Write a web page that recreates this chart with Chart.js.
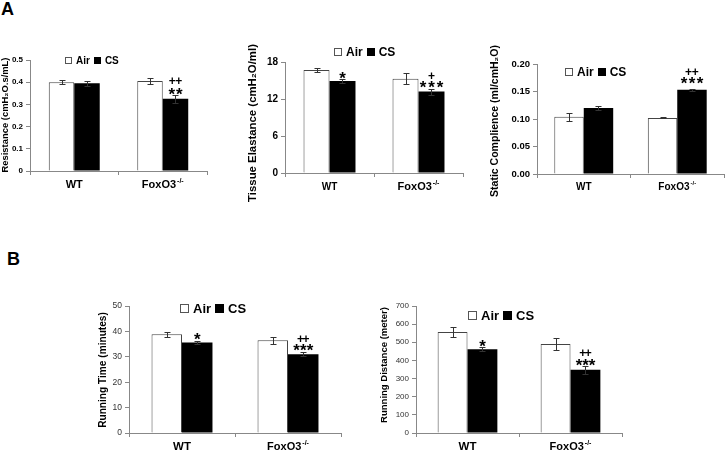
<!DOCTYPE html>
<html><head><meta charset="utf-8">
<script src="https://cdn.jsdelivr.net/npm/chart.js@4.4.1/dist/chart.umd.min.js"></script>
<style>
body{margin:0;background:#fff;width:725px;height:452px;position:relative;overflow:hidden;font-family:'Liberation Sans',Arial,sans-serif}
.lbl{position:absolute;font-weight:bold;font-size:18px;line-height:18px;color:#000}
canvas{position:absolute}
</style></head><body>
<div class="lbl" style="left:1px;top:0px">A</div>
<div class="lbl" style="left:7px;top:250px">B</div>
<canvas id="c1"></canvas><canvas id="c2"></canvas><canvas id="c3"></canvas><canvas id="c4"></canvas><canvas id="c5"></canvas>
<script>
// ---------- DATA ----------
const categories = ['WT', 'FoxO3'];
const categorySuper = ['', '-/-'];
const seriesNames = ['Air', 'CS'];

const resistanceAir = [0.400, 0.405];
const resistanceCS = [0.395, 0.325];
const resistanceAirErr = [0.008, 0.015];
const resistanceCSErr = [0.012, 0.017];
const resistanceMarks = [[], ['++', '**']];
const resistanceTicks = ['0', '0.1', '0.2', '0.3', '0.4', '0.5'];

const elastanceAir = [16.7, 15.3];
const elastanceCS = [14.9, 13.2];
const elastanceAirErr = [0.4, 0.9];
const elastanceCSErr = [0.3, 0.5];
const elastanceMarks = [['*'], ['+', '***']];
const elastanceTicks = ['0', '6', '12', '18'];

const complianceAir = [0.104, 0.102];
const complianceCS = [0.120, 0.153];
const complianceAirErr = [0.007, 0.001];
const complianceCSErr = [0.004, 0.002];
const complianceMarks = [[], ['++', '***']];
const complianceTicks = ['0.00', '0.05', '0.10', '0.15', '0.20'];

const runTimeAir = [38.9, 36.5];
const runTimeCS = [35.6, 31.0];
const runTimeAirErr = [1.0, 1.3];
const runTimeCSErr = [0.6, 0.8];
const runTimeMarks = [['*'], ['++', '***']];
const runTimeTicks = ['0', '10', '20', '30', '40', '50'];

const runDistAir = [557, 491];
const runDistCS = [462, 349];
const runDistAirErr = [27, 33];
const runDistCSErr = [12, 22];
const runDistMarks = [['*'], ['++', '***']];
const runDistTicks = ['0', '100', '200', '300', '400', '500', '600', '700'];

// ---------- LAYOUT ----------
const FONT = "'Liberation Sans', Arial, sans-serif";
Chart.defaults.font.family = FONT;
Chart.defaults.color = '#000';

const panels = [
  {id:'c1', box:[0,30,215,175], area:[30,60,207,171], title:'Resistance (cmH\u2082O.s/mL)', titleLen:115, titlePos:[5,115],
   tickFont:{size:8, weight:'bold'}, tickColor:'#000', min:0, max:0.5, step:0.1, ticks:resistanceTicks,
   air:resistanceAir, cs:resistanceCS, airErr:resistanceAirErr, csErr:resistanceCSErr, marks:resistanceMarks,
   catPct:0.576, legend:[65,60,10], catOff:14, catSizes:[11,11], markGap:5, markLine:9, markAdv:7.5},
  {id:'c2', box:[240,30,240,175], area:[285,62,463,173], title:'Tissue Elastance (cmH\u2082O/ml)', titleLen:158, titlePos:[253,123],
   tickFont:{size:10, weight:'bold'}, tickColor:'#000', min:0, max:18, step:6, ticks:elastanceTicks,
   air:elastanceAir, cs:elastanceCS, airErr:elastanceAirErr, csErr:elastanceCSErr, marks:elastanceMarks,
   catPct:0.584, legend:[334,52,12], catOff:14, catSizes:[10,11], markGap:5, markLine:8, markAdv:8.5},
  {id:'c3', box:[480,30,245,175], area:[537,64,724,174], title:'Static Complience (ml/cmH\u2082O)', titleLen:152, titlePos:[495,121],
   tickFont:{size:9.5, weight:'bold'}, tickColor:'#000', min:0, max:0.2, step:0.05, ticks:complianceTicks,
   air:complianceAir, cs:complianceCS, airErr:complianceAirErr, csErr:complianceCSErr, marks:complianceMarks,
   catPct:0.63, legend:[565,72,12], catOff:13, catSizes:[10,10], markGap:10, markLine:7, markAdv:8},
  {id:'c4', box:[85,285,260,170], area:[129,306,341,433], title:'Running Time (minutes)', titleLen:116, titlePos:[103,370],
   tickFont:{size:8.5}, tickColor:'#333', min:0, max:50, step:10, ticks:runTimeTicks,
   air:runTimeAir, cs:runTimeCS, airErr:runTimeAirErr, csErr:runTimeCSErr, marks:runTimeMarks,
   catPct:0.575, legend:[180,308,13], catOff:14, catSizes:[11.5,11], markGap:6, markLine:7, markAdv:6.7},
  {id:'c5', box:[365,285,265,170], area:[416,306,622,433], title:'Running Distance (meter)', titleLen:116, titlePos:[384,365],
   tickFont:{size:8}, tickColor:'#333', min:0, max:700, step:100, ticks:runDistTicks,
   air:runDistAir, cs:runDistCS, airErr:runDistAirErr, csErr:runDistCSErr, marks:runDistMarks,
   catPct:0.58, legend:[468,315,13], catOff:14, catSizes:[11.5,11], markGap:5, markLine:8, markAdv:6.5}
];

const deco = {
  id: 'deco',
  afterDraw(chart, args, o) {
    const ctx = chart.ctx, ys = chart.scales.y, xs = chart.scales.x, ca = chart.chartArea;
    ctx.save();
    // error bars
    o.errors.forEach((errs, di) => {
      const meta = chart.getDatasetMeta(di);
      meta.data.forEach((el, j) => {
        const v = chart.data.datasets[di].data[j], e = errs[j];
        const x = Math.round(el.x) + 0.5;
        const t = Math.round(ys.getPixelForValue(v + e)) + 0.5;
        const b = Math.round(ys.getPixelForValue(v - e)) + 0.5;
        ctx.strokeStyle = '#333'; ctx.lineWidth = 1;
        ctx.beginPath(); ctx.moveTo(x, t); ctx.lineTo(x, b);
        ctx.moveTo(x - 3, t); ctx.lineTo(x + 3, t);
        ctx.moveTo(x - 3, b); ctx.lineTo(x + 3, b); ctx.stroke();
      });
    });
    // significance marks above CS bars
    const metaCS = chart.getDatasetMeta(1);
    ctx.fillStyle = '#000'; ctx.textAlign = 'center'; ctx.textBaseline = 'alphabetic';
    metaCS.data.forEach((el, j) => {
      const lines = o.marks[j]; if (!lines.length) return;
      const v = chart.data.datasets[1].data[j], e = o.errors[1][j];
      const errTop = ys.getPixelForValue(v + e);
      const n = lines.length;
      lines.forEach((ln, k) => {
        const center = errTop - o.markGap - (n - 1 - k) * o.markLine;
        const isStar = ln[0] === '*';
        const size = isStar ? 17 : 12;
        ctx.font = `bold ${size}px ${FONT}`;
        const base = center + (isStar ? 0.585 : 0.35) * size;
        const adv = isStar ? o.markAdv : o.markAdv * 0.85;
        for (let c = 0; c < ln.length; c++) {
          ctx.fillText(ln[c], el.x + (c - (ln.length - 1) / 2) * adv, base);
        }
      });
    });
    // legend
    const [lx, ly, ls] = o.legend;
    const sq = Math.round(ls * 0.7);
    ctx.font = `bold ${ls}px ${FONT}`; ctx.textAlign = 'left'; ctx.textBaseline = 'middle';
    let x = lx;
    ctx.strokeStyle = '#555'; ctx.lineWidth = 1;
    ctx.strokeRect(Math.round(x) + 0.5, Math.round(ly - sq / 2) + 0.5, sq - 1, sq - 1);
    x += sq + 4;
    ctx.fillText(o.names[0], x, ly + 1);
    x += ctx.measureText(o.names[0]).width + 4;
    ctx.fillRect(Math.round(x), Math.round(ly - sq / 2), sq, sq);
    x += sq + 4;
    ctx.fillText(o.names[1], x, ly + 1);
    // category labels
    ctx.textBaseline = 'middle';
    o.cats.forEach((c, j) => {
      const cx = xs.getPixelForValue(j);
      const y = ca.bottom + o.catOff;
      const fs = o.catSizes[j];
      ctx.font = `bold ${fs}px ${FONT}`;
      const w1 = ctx.measureText(c).width;
      let w2 = 0;
      const sup = o.sups[j];
      if (sup) { ctx.font = `bold ${Math.round(fs * 0.6)}px ${FONT}`; w2 = ctx.measureText(sup).width + 1; }
      const sx = cx - (w1 + w2) / 2;
      ctx.textAlign = 'left';
      ctx.font = `bold ${fs}px ${FONT}`;
      ctx.fillText(c, sx, y);
      if (sup) { ctx.font = `bold ${Math.round(fs * 0.6)}px ${FONT}`; ctx.fillText(sup, sx + w1 + 1, y - fs * 0.35); }
    });
    // y-axis title (rotated), sized to the reference length
    ctx.font = `bold 10px ${FONT}`;
    const w10 = ctx.measureText(o.title.text).width;
    const tsize = 10 * o.title.len / w10;
    ctx.save();
    ctx.translate(o.title.x, o.title.y);
    ctx.rotate(-Math.PI / 2);
    ctx.font = `bold ${tsize.toFixed(2)}px ${FONT}`;
    ctx.textAlign = 'center'; ctx.textBaseline = 'middle';
    ctx.fillText(o.title.text, 0, 0);
    ctx.restore();
    ctx.restore();
  }
};

panels.forEach(p => {
  const [bx, by, bw, bh] = p.box;
  const [al, at, ar, ab] = p.area;
  const cv = document.getElementById(p.id);
  cv.width = bw; cv.height = bh;
  cv.style.left = bx + 'px'; cv.style.top = by + 'px';
  cv.style.width = bw + 'px'; cv.style.height = bh + 'px';
  new Chart(cv, {
    type: 'bar',
    data: {
      labels: categories,
      datasets: [
        {label: seriesNames[0], data: p.air, backgroundColor: '#fff', borderColor: '#444', borderWidth: 1, borderSkipped: 'bottom'},
        {label: seriesNames[1], data: p.cs, backgroundColor: '#000', borderColor: '#000', borderWidth: 0}
      ]
    },
    options: {
      responsive: false, animation: false, events: [],
      layout: {padding: {left: 0, top: at - by, right: bx + bw - ar, bottom: 0}},
      datasets: {bar: {barPercentage: 1, categoryPercentage: p.catPct}},
      plugins: {
        legend: {display: false}, tooltip: {enabled: false},
        deco: {errors: [p.airErr, p.csErr], marks: p.marks, names: seriesNames,
               legend: [p.legend[0] - bx, p.legend[1] - by, p.legend[2]],
               cats: categories, sups: categorySuper, catOff: p.catOff, catSizes: p.catSizes,
               markGap: p.markGap, markLine: p.markLine, markAdv: p.markAdv,
               title: {text: p.title, len: p.titleLen, x: p.titlePos[0] - bx, y: p.titlePos[1] - by}}
      },
      scales: {
        x: {
          offset: true,
          grid: {display: true, drawOnChartArea: false, drawTicks: true, tickLength: 4, color: '#888', offset: true},
          border: {display: true, color: '#888'},
          ticks: {display: false},
          afterFit: s => { s.height = by + bh - ab; }
        },
        y: {
          min: p.min, max: p.max,
          grid: {display: true, drawOnChartArea: false, drawTicks: true, tickLength: 4, color: '#888'},
          border: {display: true, color: '#888'},
          ticks: {stepSize: p.step, font: p.tickFont, color: p.tickColor, padding: 3,
                  callback: (v, i) => p.ticks[i]},
          title: {display: false},
          afterFit: s => { s.width = al - bx; }
        }
      }
    },
    plugins: [deco]
  });
});
</script>
</body></html>
